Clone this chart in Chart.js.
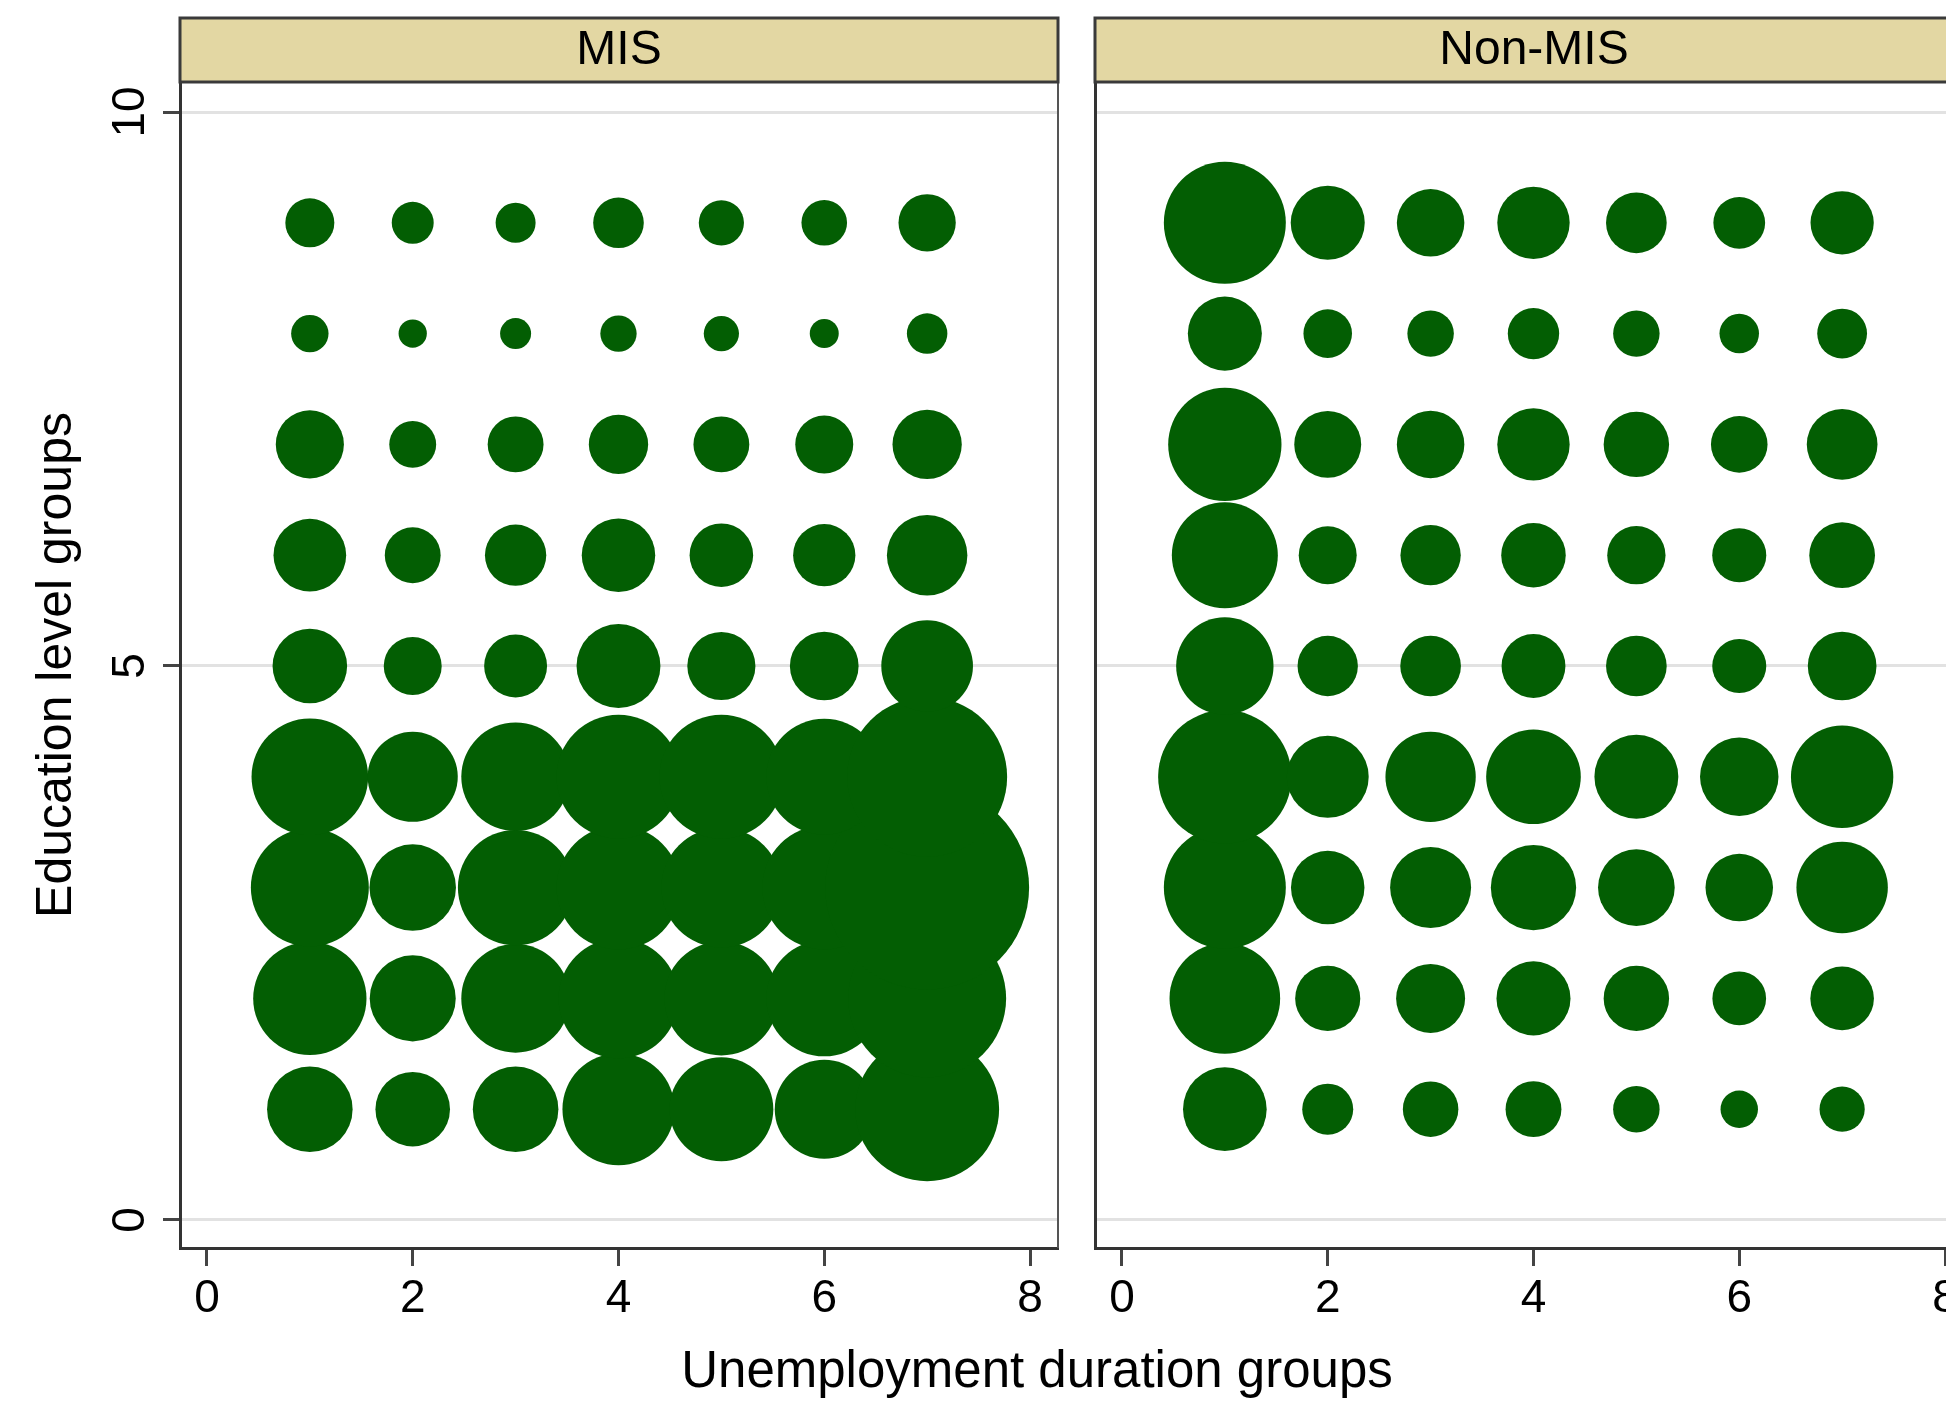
<!DOCTYPE html>
<html>
<head>
<meta charset="utf-8">
<script src="https://cdn.jsdelivr.net/npm/chart.js@4.4.0/dist/chart.umd.min.js"></script>
<style>
  html, body { margin: 0; padding: 0; background: #fff; overflow: hidden; width: 1946px; height: 1404px; }
  #wrap { position: relative; width: 1946px; height: 1404px; overflow: hidden; background: #fff; }
  .box { position: absolute; top: 0; }
  #xt { position: absolute; top: 1345px; left: 1037px; transform: translateX(-50%);
        font: 51px "Liberation Sans", Arial, Helvetica, sans-serif; line-height: 50px;
        white-space: nowrap; color: #000; }
</style>
</head>
<body>
<div id="wrap">
  <div class="box" style="left:0;width:1076px;height:1404px"><canvas id="cA" width="1076" height="1404"></canvas></div>
  <div class="box" style="left:1076px;width:924px;height:1404px"><canvas id="cB" width="924" height="1404"></canvas></div>
  <div id="xt">Unemployment duration groups</div>
</div>
<script>
// ---------- data ----------
const panelNames = ["MIS", "Non-MIS"];
const durationGroups = [1, 2, 3, 4, 5, 6, 7];            // x categories
const educationGroups = [1, 2, 3, 4, 5, 6, 7, 8, 9];     // y categories
const xTickValues = [0, 2, 4, 6, 8];
const yTickValues = [0, 5, 10];
const xAxisTitle = "Unemployment duration groups";
const yAxisTitle = "Education level groups";

// bubble weights (rows: education group 1..9, columns: duration group 1..7)
const misWeights = [
  [183, 139, 183, 314, 270, 245, 518],
  [321, 185, 295, 360, 325, 336, 624],
  [348, 187, 333, 384, 360, 384, 1040],
  [340, 203, 295, 384, 384, 336, 640],
  [139,  84,  99, 176, 116, 118, 210],
  [132,  78,  94, 135, 101,  97, 162],
  [116,  55,  78,  88,  78,  84, 120],
  [ 35,  20,  24,  33,  31,  21,  41],
  [ 60,  44,  40,  64,  51,  52,  82]
];
const nonMisWeights = [
  [175,  65,  77,  78,  54,  35,  51],
  [306, 106, 119, 137, 107,  72, 101],
  [372, 135, 164, 182, 147, 114, 209],
  [445, 168, 204, 224, 176, 154, 262],
  [237,  91,  92, 102,  92,  73, 118],
  [281,  84,  91, 104,  85,  73, 108],
  [321, 112, 114, 131, 107,  80, 125],
  [137,  59,  54,  66,  54,  39,  62],
  [372, 137, 114, 131,  92,  67, 100]
];

// ---------- styling ----------
const FONT = '"Liberation Sans", Arial, Helvetica, sans-serif';
const SIZE_K = Math.sqrt(10);           // bubble radius = K * sqrt(weight)
const X_MIN = -0.262, X_MAX = 8.272;
const Y_MIN = -0.253, Y_MAX = 10.271;
const BUBBLE_COLOR = '#035e03';
const STRIP_FILL = '#e3d7a3';
const STRIP_TOP = 18;

Chart.defaults.font.family = FONT;
Chart.defaults.color = '#000';

function buildPoints(weights) {
  const pts = [];
  educationGroups.forEach((e, i) => {
    durationGroups.forEach((d, j) => {
      pts.push({ x: d, y: e, r: SIZE_K * Math.sqrt(weights[i][j]) });
    });
  });
  return pts;
}

const stripPlugin = {
  id: 'strip',
  afterDraw(chart, args, opts) {
    const { ctx, chartArea: a } = chart;
    ctx.save();
    if (opts.rightBorder) {
      ctx.strokeStyle = '#555';
      ctx.lineWidth = 2;
      ctx.beginPath();
      ctx.moveTo(a.right, a.top);
      ctx.lineTo(a.right, a.bottom);
      ctx.stroke();
    }
    ctx.fillStyle = STRIP_FILL;
    ctx.fillRect(a.left, STRIP_TOP, a.right - a.left, a.top - STRIP_TOP);
    ctx.strokeStyle = '#3a3a3a';
    ctx.lineWidth = 3;
    ctx.strokeRect(a.left, STRIP_TOP, a.right - a.left, a.top - STRIP_TOP);
    ctx.fillStyle = '#000';
    ctx.font = '48px ' + FONT;
    ctx.textAlign = 'center';
    ctx.textBaseline = 'middle';
    ctx.fillText(opts.label, (a.left + a.right) / 2, (STRIP_TOP + a.top) / 2 + 1);
    ctx.restore();
  }
};

function makePanel(canvasId, label, weights, isFirst, padRight) {
  return new Chart(document.getElementById(canvasId), {
    type: 'bubble',
    data: {
      datasets: [{
        label: label,
        data: buildPoints(weights),
        backgroundColor: BUBBLE_COLOR,
        borderWidth: 0,
        hoverRadius: 0,
        hoverBorderWidth: 0
      }]
    },
    plugins: [stripPlugin],
    options: {
      responsive: false,
      animation: false,
      devicePixelRatio: 1,
      layout: { autoPadding: false, padding: { top: 82, right: padRight, left: 0, bottom: 0 } },
      plugins: {
        legend: { display: false },
        tooltip: { enabled: false },
        strip: { label: label, rightBorder: isFirst }
      },
      events: [],
      scales: {
        x: {
          type: 'linear',
          min: X_MIN, max: X_MAX,
          afterBuildTicks: s => { s.ticks = xTickValues.map(v => ({ value: v })); },
          afterFit: s => { s.height = 156; },
          grid: { drawOnChartArea: false, drawTicks: true, tickLength: 18, tickColor: '#444', tickWidth: 3 },
          border: { display: true, color: '#333', width: 3 },
          ticks: { color: '#000', font: { size: 46 }, padding: 6, minRotation: 0, maxRotation: 0, autoSkip: false }
        },
        y: {
          type: 'linear',
          min: Y_MIN, max: Y_MAX,
          afterBuildTicks: s => { s.ticks = yTickValues.map(v => ({ value: v })); },
          afterFit: s => { s.width = isFirst ? 180 : 19; },
          grid: { color: '#e2e2e2', lineWidth: 3, drawTicks: isFirst, tickLength: 17, tickColor: '#444', tickWidth: 3 },
          border: { display: true, color: '#333', width: 3 },
          ticks: { display: isFirst, color: '#000', font: { size: 46 }, minRotation: 90, maxRotation: 90,
                   crossAlign: 'center', padding: 6, autoSkip: false },
          title: { display: isFirst, text: yAxisTitle, color: '#000', font: { size: 50 }, padding: { top: 27, bottom: 0 } }
        }
      }
    }
  });
}

makePanel('cA', panelNames[0], misWeights, true, 18);
makePanel('cB', panelNames[1], nonMisWeights, false, 27);
document.getElementById('xt').textContent = xAxisTitle;
</script>
</body>
</html>
